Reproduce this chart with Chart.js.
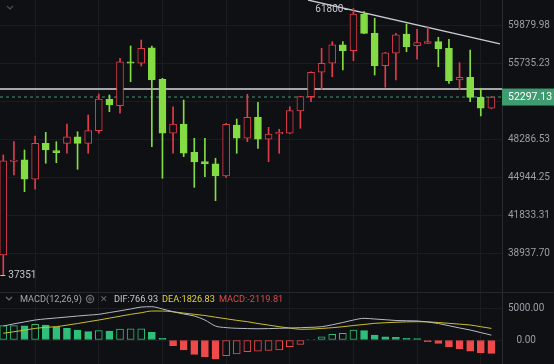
<!DOCTYPE html>
<html>
<head>
<meta charset="utf-8">
<script src="https://cdn.jsdelivr.net/npm/chart.js@4.4.1/dist/chart.umd.min.js"></script>
<style>
  html, body { margin: 0; padding: 0; background: #0f1013; }
  #wrap { position: relative; width: 554px; height: 364px; overflow: hidden; font-family: Roboto, "Noto Sans", sans-serif; }
  canvas { position: absolute; left: 0; }
  #price { top: 0; }
  #macd { top: 292px; }
  #sep { position: absolute; left: 0; top: 292px; width: 554px; height: 1px; background: #25272c; }
  .t { position: absolute; top: 293px; font-size: 9.2px; line-height: 12px; white-space: nowrap; }
  svg { position: absolute; }
</style>
</head>
<body>
<div id="wrap">
  <canvas id="price" width="554" height="292"></canvas>
  <canvas id="macd" width="554" height="72"></canvas>
  <div id="sep"></div>
  <svg style="left:6px;top:5px" width="8" height="6"><polyline points="1,1 4,4 7,1" fill="none" stroke="#4b4e54" stroke-width="1.2"/></svg>
  <svg style="left:5px;top:296px" width="8" height="6"><polyline points="1,1 4,4 7,1" fill="none" stroke="#6b6e74" stroke-width="1.2"/></svg>
  <span class="t" style="left:20px;color:#a3a6ad">MACD(12,26,9)</span>
  <svg style="left:85px;top:294px" width="10" height="10"><circle cx="5" cy="5" r="3.6" fill="none" stroke="#6b6e74" stroke-width="1.2"/><circle cx="5" cy="5" r="1.3" fill="none" stroke="#6b6e74" stroke-width="1"/></svg>
  <span class="t" style="left:100px;color:#6b6e74">✕</span>
  <span class="t" id="difTxt" style="left:114px;color:#c3c6cd"></span>
  <span class="t" id="deaTxt" style="left:162px;color:#e3d13c"></span>
  <span class="t" id="macdTxt" style="left:219px;color:#e0484a"></span>
</div>
<script>
// candles, oldest first (red = up, hollow; green = down, filled)
const opens  = [38810, 46305, 46440, 44775, 47920, 47260, 47920, 48520, 47920, 49080, 52070, 51450, 55900, 55740, 57400, 54080, 48840, 49700, 47120, 46290, 46090, 45060, 49610, 48380, 50330, 48290, 48770, 48840, 50940, 52330, 54800, 55740, 57700, 57080, 61170, 58980, 55480, 56800, 58910, 57620, 57880, 58060, 57340, 54010, 54280, 52270, 51200];
const highs  = [46880, 48070, 47320, 48590, 48930, 48070, 49700, 48980, 50550, 52600, 52500, 56270, 57590, 58240, 57590, 54180, 51350, 52000, 48380, 48380, 46590, 49770, 50170, 52570, 51780, 49390, 49210, 51350, 52380, 54850, 57340, 58060, 58060, 61800, 61440, 60680, 56900, 58980, 60030, 59430, 59720, 58540, 58320, 55800, 57150, 53170, 52350];
const lows   = [37351, 45140, 43740, 43940, 46150, 46200, 47030, 45630, 47030, 48840, 50870, 50720, 53830, 55450, 47620, 44860, 47030, 46730, 44100, 45000, 43000, 44940, 47030, 48070, 47470, 46290, 47030, 48800, 49300, 51840, 53070, 54340, 55040, 56010, 58950, 54520, 53270, 54010, 56970, 56160, 57850, 55380, 53670, 53070, 51840, 50460, 51150];
const closes = [46370, 46390, 44775, 47920, 47320, 47080, 48520, 47920, 49080, 52100, 51520, 55900, 55740, 57340, 54010, 48840, 49700, 47030, 46260, 46090, 45060, 49670, 48380, 50330, 48290, 48770, 48930, 50970, 52330, 54800, 55740, 57700, 57080, 61170, 58980, 55480, 56860, 58800, 57510, 57950, 58060, 57260, 53940, 54280, 52270, 51200, 52297.13];

const priceTicks = [38937.70, 41833.31, 44944.25, 48286.53, 51877.39, 55735.23, 59879.98];
const priceMin = 36193;
const priceMax = 62810;
const levelPrice = 53100;
const trendIdx = [28.72, 46.81];
const trendPrice = [62810, 57805];

// MACD(12,26,9)
const prevHist = 2100;
const hist = [2255, 2280, 2250, 2476, 2365, 2097, 1845, 1577, 1309, 1467, 1419, 1735, 1750, 1770, 1214, 268, -900, -1577, -2255, -2634, -2997, -2476, -2200, -1845, -1750, -1660, -1577, -1057, -678, 110, 520, 900, 1057, 1577, 1467, 789, 520, 426, 268, 205, -268, -520, -1100, -1420, -1750, -1980, -2119.81];
const dif = [2200, 2550, 2850, 3150, 3330, 3480, 3630, 3780, 3920, 4050, 4330, 4600, 4890, 5200, 5250, 4890, 4460, 4100, 3785, 3150, 2200, 1950, 1845, 1800, 1770, 1800, 1845, 1890, 1940, 2000, 2100, 2400, 2760, 3150, 3420, 3310, 3200, 3075, 3040, 3000, 2850, 2600, 2255, 1900, 1577, 1170, 766.93];
const dea = [1057, 1300, 1560, 1830, 2000, 2100, 2350, 2600, 2880, 3150, 3450, 3750, 4050, 4300, 4570, 4570, 4450, 4250, 4050, 3860, 3600, 3350, 3100, 2890, 2600, 2350, 2100, 1880, 1690, 1720, 1820, 1940, 2100, 2280, 2450, 2630, 2720, 2800, 2860, 2890, 2860, 2760, 2630, 2500, 2365, 2100, 1826.83];
const macdTicks = [0, 5000];
const macdMin = -3785;
const macdMax = 7571;

const xMin = -0.31, xMax = 47.0;
const gridIdx = [6, 12, 18, 24, 30, 36, 42];

const BG = "#0f1013";
const UP = "#e23b4b";
const DOWN = "#84dc44";
const HIST_UP = "#2fbf78";
const HIST_DOWN = "#ef4a4b";
const GRID = "#1a1c20";

const idx = closes.map((_, i) => i);
const isUp = closes.map((c, i) => c >= opens[i]);

const xAxis = {
  type: "linear",
  min: xMin,
  max: xMax,
  offset: false,
  grid: { color: GRID, drawTicks: false },
  border: { display: false },
  ticks: { display: false },
  afterBuildTicks: (s) => { s.ticks = gridIdx.map((v) => ({ value: v })); },
  afterFit: (s) => { s.height = 0; s.paddingLeft = 0; s.paddingRight = 0; },
};

const yCommon = {
  position: "right",
  grid: { color: GRID, drawTicks: false },
  border: { display: true, color: "#2a2c31" },
  ticks: { color: "#9a9ea6", font: { size: 10, family: "Roboto" }, padding: 6, crossAlign: "center", callback: (v) => Number(v).toFixed(2) },
  afterFit: (s) => { s.width = 52; s.paddingTop = 0; s.paddingBottom = 0; },
};

const overlay = {
  id: "overlay",
  afterDraw(chart) {
    const { ctx, chartArea } = chart;
    const x = chart.scales.x, y = chart.scales.y;
    ctx.save();
    ctx.font = "10px Roboto, sans-serif";
    ctx.textBaseline = "middle";
    ctx.strokeStyle = "#c4c7cd";
    ctx.fillStyle = "#c4c7cd";
    ctx.lineWidth = 1;

    const hi = Math.max(...highs);
    const hx = x.getPixelForValue(highs.indexOf(hi));
    const hy = Math.round(y.getPixelForValue(hi)) + 0.5;
    ctx.beginPath(); ctx.moveTo(hx - 9, hy); ctx.lineTo(hx - 3, hy); ctx.stroke();
    ctx.textAlign = "right";
    ctx.fillText(String(hi), hx - 10, hy);

    const lo = Math.min(...lows);
    const lx = x.getPixelForValue(lows.indexOf(lo));
    const ly = Math.round(y.getPixelForValue(lo)) + 0.5;
    ctx.beginPath(); ctx.moveTo(lx - 3, ly); ctx.lineTo(lx + 2, ly); ctx.stroke();
    ctx.textAlign = "left";
    ctx.fillText(String(lo), lx + 5, ly);

    // last price tag
    const last = closes[closes.length - 1];
    const py = y.getPixelForValue(last);
    ctx.fillStyle = "#3e9c70";
    ctx.fillRect(chartArea.right, py - 8.5, chart.width - chartArea.right, 17);
    ctx.fillStyle = "#ffffff";
    ctx.font = "10.5px Roboto, sans-serif";
    ctx.fillText(last.toFixed(2), chartArea.right + 6, py);
    ctx.restore();
  },
};

new Chart(document.getElementById("price"), {
  type: "bar",
  data: {
    datasets: [
      {
        data: idx.map((i) => ({ x: i, y: [opens[i], closes[i]] })),
        grouped: false,
        order: 0,
        barThickness: 7,
        minBarLength: 1.5,
        borderSkipped: false,
        borderWidth: 1,
        backgroundColor: isUp.map((u) => (u ? BG : DOWN)),
        borderColor: isUp.map((u) => (u ? UP : DOWN)),
      },
      {
        data: idx.map((i) => ({ x: i, y: [lows[i], highs[i]] })),
        grouped: false,
        order: 1,
        barThickness: 1,
        borderWidth: 0,
        backgroundColor: isUp.map((u) => (u ? UP : DOWN)),
      },
      {
        type: "line",
        order: 2,
        data: [{ x: xMin, y: levelPrice }, { x: xMax, y: levelPrice }],
        borderColor: "#d9dadd",
        borderWidth: 1.5,
        pointRadius: 0,
      },
      {
        type: "line",
        order: 2,
        data: [{ x: xMin, y: closes[closes.length - 1] }, { x: xMax, y: closes[closes.length - 1] }],
        borderColor: "#3e9c70",
        borderWidth: 1,
        borderDash: [3, 3],
        pointRadius: 0,
      },
      {
        type: "line",
        order: 2,
        data: trendIdx.map((v, i) => ({ x: v, y: trendPrice[i] })),
        borderColor: "#c9cbd0",
        borderWidth: 1.3,
        pointRadius: 0,
      },
    ],
  },
  options: {
    responsive: false,
    devicePixelRatio: 1,
    animation: false,
    events: [],
    layout: { padding: 0 },
    plugins: { legend: { display: false }, tooltip: { enabled: false } },
    scales: {
      x: xAxis,
      y: {
        ...yCommon,
        type: "logarithmic",
        min: priceMin,
        max: priceMax,
        afterBuildTicks: (s) => { s.ticks = priceTicks.map((v) => ({ value: v })); },
      },
    },
  },
  plugins: [overlay],
});

const histColor = hist.map((v) => (v >= 0 ? HIST_UP : HIST_DOWN));
const histHollow = hist.map((v, i) => v > (i === 0 ? prevHist : hist[i - 1]));

new Chart(document.getElementById("macd"), {
  type: "bar",
  data: {
    datasets: [
      {
        type: "line",
        order: 0,
        data: idx.map((i) => ({ x: i, y: dif[i] })),
        borderColor: "#b7bac4",
        borderWidth: 1,
        pointRadius: 0,
        cubicInterpolationMode: "monotone",
      },
      {
        type: "line",
        order: 1,
        data: idx.map((i) => ({ x: i, y: dea[i] })),
        borderColor: "#cdbf2c",
        borderWidth: 1,
        pointRadius: 0,
        cubicInterpolationMode: "monotone",
      },
      {
        order: 2,
        data: idx.map((i) => ({ x: i, y: hist[i] })),
        grouped: false,
        barThickness: 7,
        borderSkipped: false,
        borderWidth: 1,
        backgroundColor: hist.map((v, i) => (histHollow[i] ? BG : histColor[i])),
        borderColor: histColor,
      },
    ],
  },
  options: {
    responsive: false,
    devicePixelRatio: 1,
    animation: false,
    events: [],
    layout: { padding: 0 },
    plugins: { legend: { display: false }, tooltip: { enabled: false } },
    scales: {
      x: xAxis,
      y: {
        ...yCommon,
        type: "linear",
        min: macdMin,
        max: macdMax,
        afterBuildTicks: (s) => { s.ticks = macdTicks.map((v) => ({ value: v })); },
      },
    },
  },
});

document.getElementById("difTxt").textContent = "DIF:" + dif[dif.length - 1].toFixed(2);
document.getElementById("deaTxt").textContent = "DEA:" + dea[dea.length - 1].toFixed(2);
document.getElementById("macdTxt").textContent = "MACD:" + hist[hist.length - 1].toFixed(2);
</script>
</body>
</html>
